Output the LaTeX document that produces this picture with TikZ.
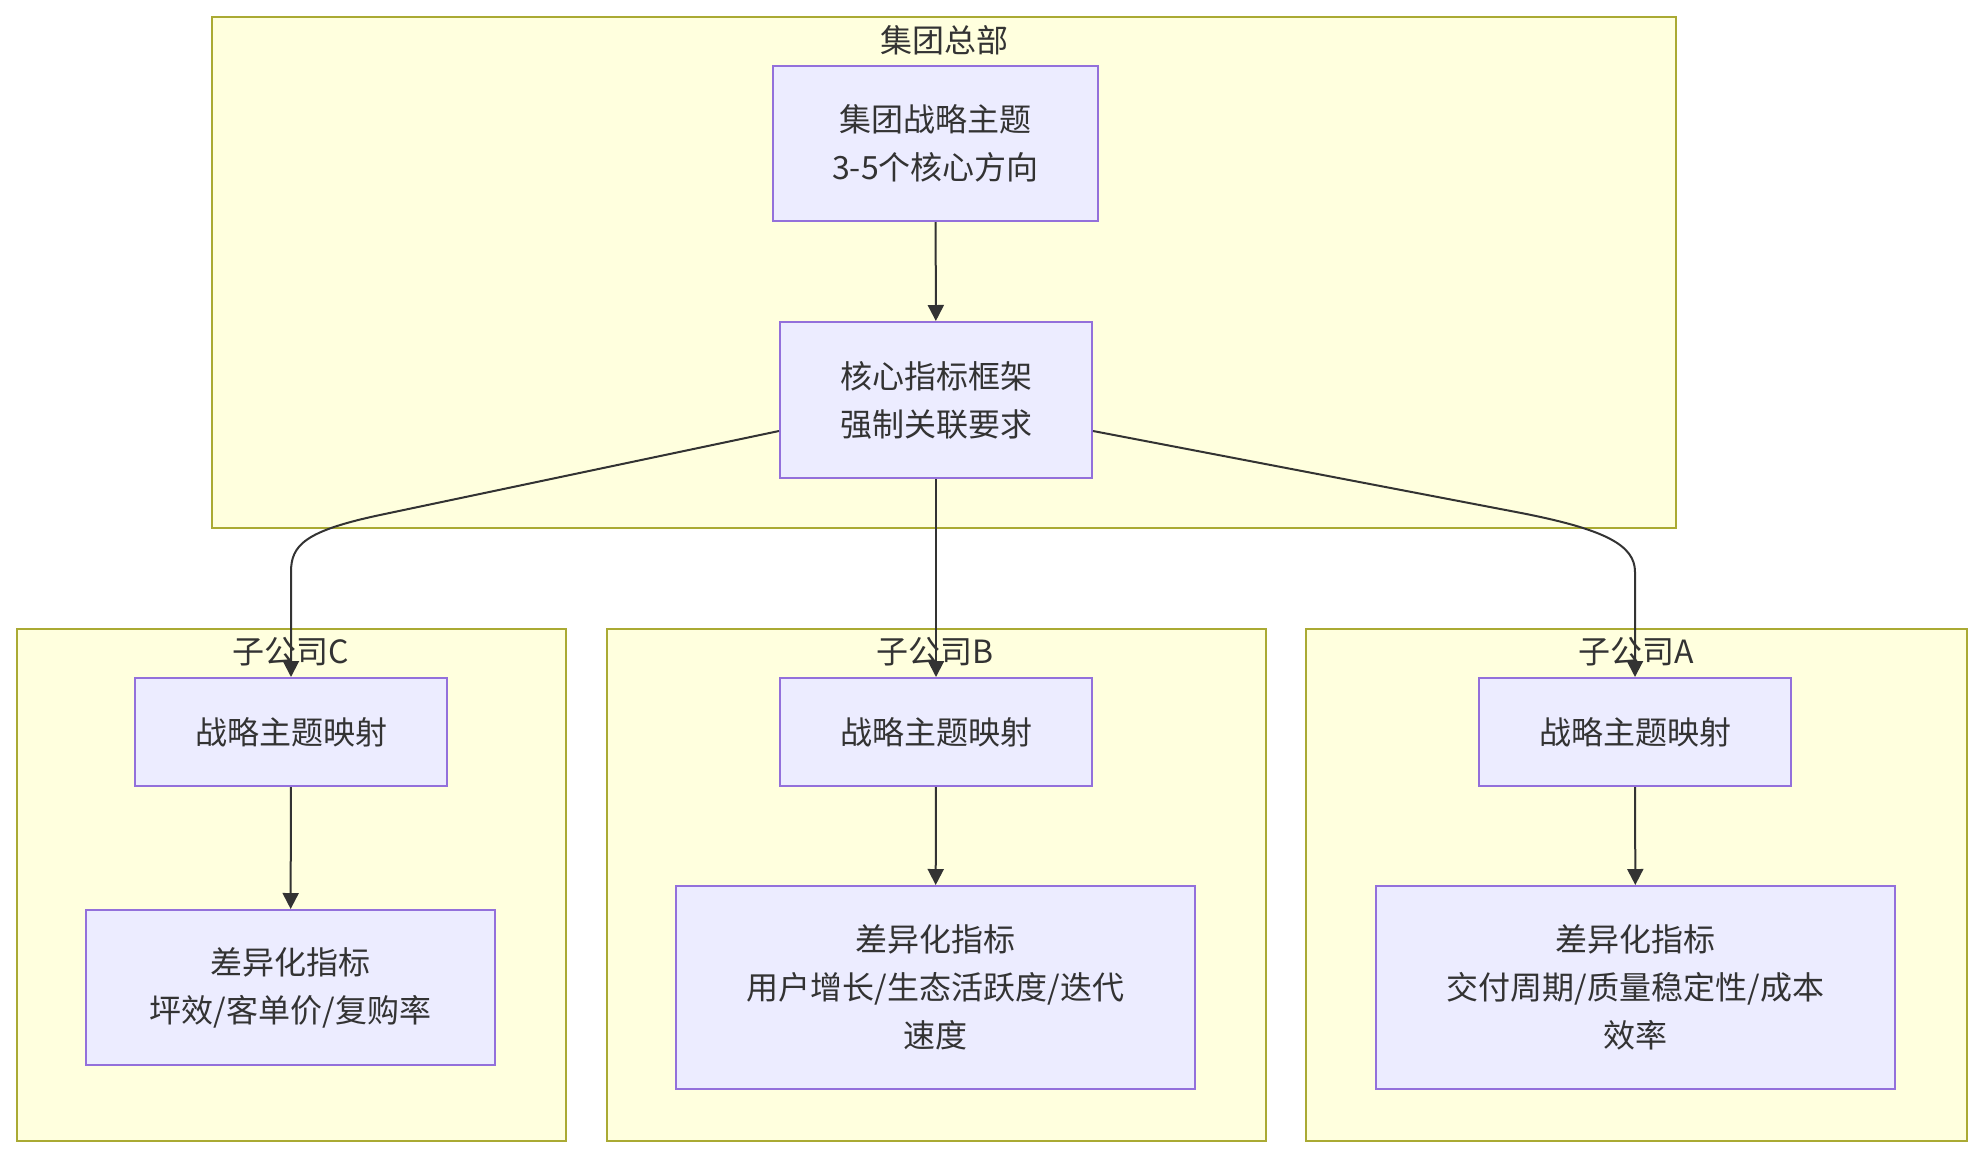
\documentclass[tikz,border=0pt]{standalone}
\usepackage{fontspec}
\setmainfont{Noto Sans CJK SC}
\usetikzlibrary{arrows.meta,calc}
\definecolor{clfill}{HTML}{FFFFDE}
\definecolor{clline}{HTML}{AAAA33}
\definecolor{ndfill}{HTML}{ECECFF}
\definecolor{ndline}{HTML}{9370DB}
\definecolor{txt}{HTML}{333333}
\tikzset{
  cluster/.style={draw=clline, fill=clfill, line width=2pt, inner sep=0pt, anchor=north west},
  cltitle/.style={text=txt, font=\fontsize{32}{38}\selectfont, inner sep=0pt},
  box/.style={draw=ndline, fill=ndfill, line width=2pt, text=txt, align=center,
    font=\fontsize{32}{48}\selectfont, inner sep=0pt},
  link/.style={draw=txt, line width=2pt, -{Triangle[length=16pt,width=16pt]}},
}
\begin{document}
\begin{tikzpicture}[x=1pt,y=-1pt]
\useasboundingbox (0,0) rectangle (1981,1156);
\fill[white] (0,0) rectangle (1981,1156);
% clusters
\node[cluster, minimum width=1464pt, minimum height=511pt] (hq) at (211,16) {};
\node[cluster, minimum width=549pt, minimum height=512pt] (subc) at (16,628) {};
\node[cluster, minimum width=659pt, minimum height=512pt] (subb) at (606,628) {};
\node[cluster, minimum width=661pt, minimum height=512pt] (suba) at (1305,628) {};
\node[cltitle] (hqt) at (944,40) {集团总部};
\node[cltitle] (subct) at (291,652) {子公司C};
\node[cltitle] (subbt) at (935,652) {子公司B};
\node[cltitle] (subat) at (1636,652) {子公司A};
% nodes
\node[box, minimum width=325pt, minimum height=155pt] (g1) at (935.5,143.5) {集团战略主题\\3-5个核心方向};
\node[box, minimum width=312pt, minimum height=156pt] (g2) at (936,400) {核心指标框架\\强制关联要求};
\node[box, minimum width=312pt, minimum height=108pt] (cmap) at (291,732) {战略主题映射};
\node[box, minimum width=409pt, minimum height=155pt] (cdiff) at (290.5,987.5) {差异化指标\\坪效/客单价/复购率};
\node[box, minimum width=312pt, minimum height=108pt] (bmap) at (936,732) {战略主题映射};
\node[box, minimum width=519pt, minimum height=203pt] (bdiff) at (935.5,987.5) {差异化指标\\用户增长/生态活跃度/迭代\\速度};
\node[box, minimum width=312pt, minimum height=108pt] (amap) at (1635,732) {战略主题映射};
\node[box, minimum width=519pt, minimum height=203pt] (adiff) at (1635.5,987.5) {差异化指标\\交付周期/质量稳定性/成本\\效率};
% edges
\draw[link] (g1) -- (g2);
\draw[link] (g2.south) -- (bmap.north);
\draw[link] ([yshift=-31pt]g2.west) -- (380,515) .. controls (305,531) and (291,545) .. (291,572) -- (cmap.north);
\draw[link] ([yshift=-31pt]g2.east) -- (1516,512) .. controls (1605,529) and (1635,545) .. (1635,572) -- (amap.north);
\draw[link] (cmap) -- (cdiff);
\draw[link] (bmap) -- (bdiff);
\draw[link] (amap) -- (adiff);
\end{tikzpicture}
\end{document}
